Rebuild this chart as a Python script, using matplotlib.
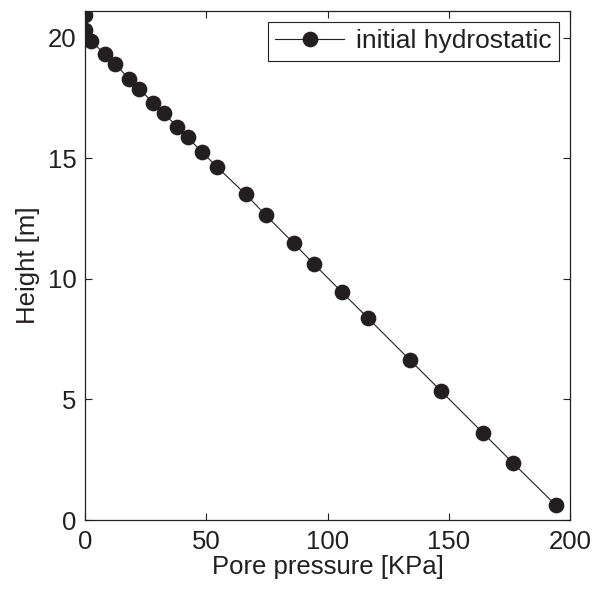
import matplotlib
matplotlib.use("Agg")
import matplotlib.pyplot as plt

pressure = [0.0, 0.2, 2.5, 8.2, 12.5, 18.1, 22.4, 28.2, 32.4, 38.1, 42.3, 48.2, 54.4,
            66.3, 74.5, 86.1, 94.4, 106.0, 116.6, 134.0, 146.7, 164.0, 176.6, 194.1]
height = [20.93, 20.31, 19.86, 19.31, 18.9, 18.29, 17.86, 17.29, 16.88, 16.29, 15.86,
          15.26, 14.64, 13.5, 12.64, 11.47, 10.61, 9.44, 8.38, 6.63, 5.36, 3.62, 2.35, 0.62]
xticks = [0, 50, 100, 150, 200]
yticks = [0, 5, 10, 15, 20]

plt.rcParams['font.family'] = ['Liberation Sans', 'DejaVu Sans']
fs = 18.5
fig = plt.figure(figsize=(6.0, 5.93), dpi=100)
ax = fig.add_axes([85/600, 1-520/593, 485/600, 509/593])
c = '#231f20'
ax.plot(pressure, height, '-o', color=c, lw=0.8, markersize=10.3,
        markerfacecolor=c, markeredgecolor=c, label='initial hydrostatic')
ax.set_xlim(0, 200)
ax.set_ylim(0, 21.1)
ax.set_xticks(xticks)
ax.set_yticks(yticks)
ax.tick_params(direction='in', top=True, right=True, length=5, width=0.8,
               labelsize=fs, colors=c)
ax.tick_params(axis='x', pad=7)
ax.tick_params(axis='y', pad=6)
for s in ax.spines.values():
    s.set_linewidth(0.9)
    s.set_color(c)
ax.set_xlabel('Pore pressure [KPa]', fontsize=fs, color=c, labelpad=1)
ax.set_ylabel('Height [m]', fontsize=fs, color=c, labelpad=5.5)
leg = ax.legend(loc='upper right', fontsize=19, fancybox=False, framealpha=1,
                edgecolor=c, borderaxespad=0.4, handlelength=2.6, handletextpad=0.45,
                borderpad=0.3)
leg.get_frame().set_linewidth(0.8)
for t in leg.get_texts():
    t.set_color(c)
fig.savefig('out.png', dpi=100)
